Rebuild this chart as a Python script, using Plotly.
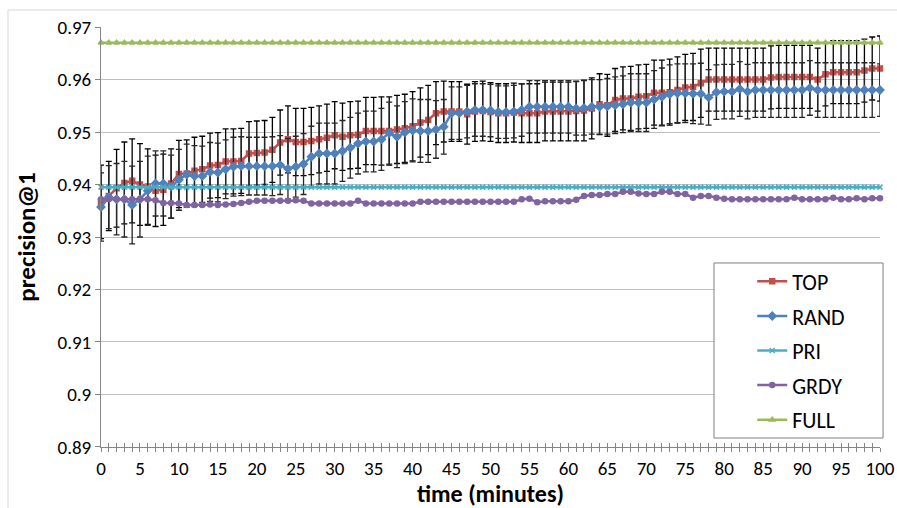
import plotly.graph_objects as go

minutes = list(range(0, 101))

TOP = [0.9367, 0.9378, 0.9393, 0.9403, 0.9407, 0.9400, 0.9396, 0.9388, 0.9390, 0.9402,
       0.9420, 0.9421, 0.9426, 0.9429, 0.9436, 0.9437, 0.9444, 0.9444, 0.9445, 0.9459,
       0.9460, 0.9461, 0.9466, 0.9480, 0.9486, 0.9481, 0.9481, 0.9483, 0.9486, 0.9489,
       0.9494, 0.9491, 0.9494, 0.9495, 0.9502, 0.9502, 0.9502, 0.9502, 0.9505, 0.9507,
       0.9511, 0.9518, 0.9523, 0.9536, 0.9539, 0.9539, 0.9539, 0.9534, 0.9539, 0.9540,
       0.9538, 0.9536, 0.9536, 0.9537, 0.9536, 0.9536, 0.9536, 0.9539, 0.9539, 0.9539,
       0.9539, 0.9540, 0.9541, 0.9545, 0.9553, 0.9551, 0.9561, 0.9564, 0.9564, 0.9567,
       0.9568, 0.9575, 0.9575, 0.9576, 0.9580, 0.9585, 0.9586, 0.9593, 0.9600, 0.9600,
       0.9600, 0.9600, 0.9600, 0.9600, 0.9600, 0.9600, 0.9604, 0.9605, 0.9605, 0.9605,
       0.9605, 0.9605, 0.9600, 0.9610, 0.9614, 0.9614, 0.9614, 0.9614, 0.9617, 0.9621,
       0.9621]

RAND = [0.9357, 0.9376, 0.9372, 0.9372, 0.9361, 0.9372, 0.9388, 0.9402, 0.9402, 0.9396,
        0.9409, 0.9419, 0.9416, 0.9416, 0.9424, 0.9423, 0.9429, 0.9434, 0.9435, 0.9435,
        0.9435, 0.9435, 0.9435, 0.9437, 0.9430, 0.9434, 0.9439, 0.9453, 0.9459, 0.9459,
        0.9459, 0.9464, 0.9470, 0.9478, 0.9482, 0.9482, 0.9486, 0.9498, 0.9491, 0.9499,
        0.9503, 0.9502, 0.9502, 0.9505, 0.9510, 0.9536, 0.9536, 0.9539, 0.9542, 0.9542,
        0.9541, 0.9538, 0.9538, 0.9539, 0.9542, 0.9548, 0.9548, 0.9548, 0.9548, 0.9548,
        0.9548, 0.9545, 0.9546, 0.9548, 0.9548, 0.9549, 0.9551, 0.9553, 0.9556, 0.9556,
        0.9556, 0.9562, 0.9567, 0.9572, 0.9574, 0.9574, 0.9573, 0.9573, 0.9566, 0.9576,
        0.9577, 0.9577, 0.9582, 0.9577, 0.9580, 0.9580, 0.9580, 0.9580, 0.9580, 0.9580,
        0.9580, 0.9584, 0.9580, 0.9580, 0.9580, 0.9580, 0.9580, 0.9580, 0.9580, 0.9580,
        0.9580]

PRI = [0.9395, 0.9395, 0.9395, 0.9395, 0.9395, 0.9395, 0.9395, 0.9395, 0.9395, 0.9395,
       0.9395, 0.9395, 0.9395, 0.9395, 0.9395, 0.9395, 0.9395, 0.9395, 0.9395, 0.9395,
       0.9395, 0.9395, 0.9395, 0.9395, 0.9395, 0.9395, 0.9395, 0.9395, 0.9395, 0.9395,
       0.9395, 0.9395, 0.9395, 0.9395, 0.9395, 0.9395, 0.9395, 0.9395, 0.9395, 0.9395,
       0.9395, 0.9395, 0.9395, 0.9395, 0.9395, 0.9395, 0.9395, 0.9395, 0.9395, 0.9395,
       0.9395, 0.9395, 0.9395, 0.9395, 0.9395, 0.9395, 0.9395, 0.9395, 0.9395, 0.9395,
       0.9395, 0.9395, 0.9395, 0.9395, 0.9395, 0.9395, 0.9395, 0.9395, 0.9395, 0.9395,
       0.9395, 0.9395, 0.9395, 0.9395, 0.9395, 0.9395, 0.9395, 0.9395, 0.9395, 0.9395,
       0.9395, 0.9395, 0.9395, 0.9395, 0.9395, 0.9395, 0.9395, 0.9395, 0.9395, 0.9395,
       0.9395, 0.9395, 0.9395, 0.9395, 0.9395, 0.9395, 0.9395, 0.9395, 0.9395, 0.9395,
       0.9395]

GRDY = [0.9372, 0.9372, 0.9372, 0.9372, 0.9372, 0.9372, 0.9372, 0.9370, 0.9365, 0.9365,
        0.9364, 0.9361, 0.9361, 0.9361, 0.9362, 0.9361, 0.9362, 0.9363, 0.9365, 0.9367,
        0.9369, 0.9369, 0.9369, 0.9369, 0.9369, 0.9370, 0.9369, 0.9364, 0.9364, 0.9364,
        0.9364, 0.9364, 0.9364, 0.9369, 0.9364, 0.9364, 0.9364, 0.9364, 0.9364, 0.9364,
        0.9364, 0.9367, 0.9367, 0.9367, 0.9367, 0.9367, 0.9367, 0.9367, 0.9367, 0.9367,
        0.9367, 0.9367, 0.9367, 0.9367, 0.9372, 0.9373, 0.9366, 0.9368, 0.9368, 0.9368,
        0.9368, 0.9371, 0.9378, 0.9380, 0.9380, 0.9382, 0.9382, 0.9386, 0.9386, 0.9383,
        0.9382, 0.9382, 0.9386, 0.9386, 0.9382, 0.9382, 0.9375, 0.9378, 0.9378, 0.9375,
        0.9373, 0.9372, 0.9372, 0.9372, 0.9372, 0.9372, 0.9372, 0.9372, 0.9372, 0.9375,
        0.9372, 0.9372, 0.9372, 0.9372, 0.9375, 0.9372, 0.9372, 0.9374, 0.9372, 0.9374,
        0.9374]

FULL = [0.9670, 0.9670, 0.9670, 0.9670, 0.9670, 0.9670, 0.9670, 0.9670, 0.9670, 0.9670,
        0.9670, 0.9670, 0.9670, 0.9670, 0.9670, 0.9670, 0.9670, 0.9670, 0.9670, 0.9670,
        0.9670, 0.9670, 0.9670, 0.9670, 0.9670, 0.9670, 0.9670, 0.9670, 0.9670, 0.9670,
        0.9670, 0.9670, 0.9670, 0.9670, 0.9670, 0.9670, 0.9670, 0.9670, 0.9670, 0.9670,
        0.9670, 0.9670, 0.9670, 0.9670, 0.9670, 0.9670, 0.9670, 0.9670, 0.9670, 0.9670,
        0.9670, 0.9670, 0.9670, 0.9670, 0.9670, 0.9670, 0.9670, 0.9670, 0.9670, 0.9670,
        0.9670, 0.9670, 0.9670, 0.9670, 0.9670, 0.9670, 0.9670, 0.9670, 0.9670, 0.9670,
        0.9670, 0.9670, 0.9670, 0.9670, 0.9670, 0.9670, 0.9670, 0.9670, 0.9670, 0.9670,
        0.9670, 0.9670, 0.9670, 0.9670, 0.9670, 0.9670, 0.9670, 0.9670, 0.9670, 0.9670,
        0.9670, 0.9670, 0.9670, 0.9670, 0.9670, 0.9670, 0.9670, 0.9670, 0.9670, 0.9670,
        0.9670]

TOP_ERR = [0.0070, 0.0066, 0.0074, 0.0078, 0.0080, 0.0078, 0.0072, 0.0068, 0.0068, 0.0066,
           0.0064, 0.0064, 0.0064, 0.0063, 0.0062, 0.0062, 0.0062, 0.0062, 0.0062, 0.0061,
           0.0061, 0.0061, 0.0062, 0.0062, 0.0064, 0.0064, 0.0064, 0.0064, 0.0064, 0.0064,
           0.0064, 0.0064, 0.0064, 0.0064, 0.0064, 0.0064, 0.0065, 0.0065, 0.0065, 0.0065,
           0.0066, 0.0066, 0.0066, 0.0060, 0.0058, 0.0057, 0.0057, 0.0057, 0.0057, 0.0057,
           0.0056, 0.0056, 0.0056, 0.0056, 0.0056, 0.0056, 0.0056, 0.0056, 0.0056, 0.0056,
           0.0056, 0.0057, 0.0058, 0.0058, 0.0058, 0.0059, 0.0060, 0.0060, 0.0061, 0.0061,
           0.0061, 0.0062, 0.0062, 0.0063, 0.0063, 0.0063, 0.0064, 0.0065, 0.0060, 0.0060,
           0.0060, 0.0060, 0.0060, 0.0060, 0.0060, 0.0060, 0.0060, 0.0060, 0.0060, 0.0060,
           0.0060, 0.0060, 0.0060, 0.0060, 0.0060, 0.0060, 0.0060, 0.0060, 0.0060, 0.0060,
           0.0062]

RAND_ERR = [0.0065, 0.0060, 0.0068, 0.0072, 0.0074, 0.0072, 0.0066, 0.0062, 0.0062, 0.0060,
            0.0058, 0.0058, 0.0058, 0.0057, 0.0056, 0.0056, 0.0056, 0.0056, 0.0056, 0.0055,
            0.0055, 0.0055, 0.0056, 0.0056, 0.0058, 0.0058, 0.0058, 0.0058, 0.0058, 0.0058,
            0.0058, 0.0058, 0.0058, 0.0058, 0.0058, 0.0058, 0.0059, 0.0059, 0.0059, 0.0059,
            0.0060, 0.0060, 0.0060, 0.0055, 0.0052, 0.0050, 0.0050, 0.0050, 0.0050, 0.0050,
            0.0050, 0.0050, 0.0050, 0.0050, 0.0050, 0.0050, 0.0050, 0.0050, 0.0050, 0.0050,
            0.0050, 0.0051, 0.0052, 0.0052, 0.0052, 0.0053, 0.0054, 0.0054, 0.0055, 0.0055,
            0.0055, 0.0055, 0.0055, 0.0056, 0.0056, 0.0056, 0.0057, 0.0058, 0.0053, 0.0052,
            0.0052, 0.0052, 0.0052, 0.0052, 0.0052, 0.0052, 0.0052, 0.0052, 0.0052, 0.0052,
            0.0052, 0.0052, 0.0052, 0.0052, 0.0052, 0.0052, 0.0052, 0.0052, 0.0052, 0.0052,
            0.0050]

X_TICKS = [0, 5, 10, 15, 20, 25, 30, 35, 40, 45, 50, 55, 60, 65, 70, 75, 80, 85, 90, 95, 100]
Y_TICKS = [0.89, 0.90, 0.91, 0.92, 0.93, 0.94, 0.95, 0.96, 0.97]
Y_TICK_TEXT = ["0.89", "0.9", "0.91", "0.92", "0.93", "0.94", "0.95", "0.96", "0.97"]

FONT = "Calibri, Carlito, Lato, sans-serif"
AXIS_GRAY = "#868686"

series = [
    ("TOP", TOP, "#C0504D", "square", 5, TOP_ERR, "#000000"),
    ("RAND", RAND, "#4F81BD", "diamond", 6, RAND_ERR, "#262626"),
    ("PRI", PRI, "#4BACC6", "x-thin-open", 5, None, None),
    ("GRDY", GRDY, "#8064A2", "circle", 5, None, None),
    ("FULL", FULL, "#9BBB59", "triangle-up", 5, None, None),
]

fig = go.Figure()
for name, vals, color, sym, msize, err, ecol in series:
    kw = {}
    if err is not None:
        kw["error_y"] = dict(type="data", array=err, visible=True, color=ecol,
                             thickness=1.3, width=3)
    fig.add_trace(go.Scatter(
        x=minutes, y=vals, name=name, mode="lines+markers",
        line=dict(color=color, width=2.5),
        marker=dict(symbol=sym, size=msize, color=color,
                    line=dict(color=color, width=1.5)),
        legendgroup=name, cliponaxis=False, **kw))

# invisible helper trace so the second (tick-only) x axis is drawn
fig.add_trace(go.Scatter(x=[minutes[0]], y=[None], xaxis="x2", yaxis="y",
                         showlegend=False, hoverinfo="skip", mode="lines"))

fig.update_layout(
    width=897, height=508,
    margin=dict(l=101, r=17, t=27, b=61, autoexpand=False),
    paper_bgcolor="white", plot_bgcolor="white",
    font=dict(family=FONT, size=19, color="#000000"),
    showlegend=True,
    legend=dict(x=0.836, y=0.444, xanchor="left", yanchor="top",
                bgcolor="rgba(0,0,0,0)", borderwidth=0,
                font=dict(family=FONT, size=22, color="#000000"),
                tracegroupgap=3, itemwidth=30),
    xaxis=dict(range=[0, 100], tickmode="array", tickvals=X_TICKS,
               ticks="outside", ticklen=4, tickcolor=AXIS_GRAY, tickwidth=1,
               minor=dict(dtick=1, tick0=0, ticks="outside", ticklen=4,
                          tickcolor=AXIS_GRAY, tickwidth=1, showgrid=False),
               showline=True, linecolor=AXIS_GRAY, linewidth=1,
               showgrid=False, zeroline=False,
               tickfont=dict(family=FONT, size=19),
               title=dict(text="<b>time (minutes)</b>", standoff=4,
                          font=dict(family=FONT, size=24))),
    xaxis2=dict(range=[0, 100], overlaying="x", anchor="y", side="bottom",
                dtick=1, tick0=0, ticks="inside", ticklen=4, tickcolor=AXIS_GRAY,
                tickwidth=1, showticklabels=False, showline=False,
                showgrid=False, zeroline=False),
    yaxis=dict(range=[0.88999, 0.97001], tickmode="array", tickvals=Y_TICKS,
               ticktext=Y_TICK_TEXT,
               ticks="outside", ticklen=5, tickcolor=AXIS_GRAY,
               showline=True, linecolor=AXIS_GRAY, linewidth=1,
               showgrid=True, gridcolor="#BFBFBF", gridwidth=1, zeroline=False,
               tickfont=dict(family=FONT, size=19),
               title=dict(text="<b>precision@1</b>", standoff=14,
                          font=dict(family=FONT, size=25))),
    shapes=[
        dict(type="rect", xref="paper", yref="paper",
             x0=0.7869, x1=1.0039, y0=0.0214, y1=0.4381,
             line=dict(color="#7F7F7F", width=1), fillcolor="white", layer="above"),
        dict(type="rect", xref="paper", yref="paper",
             x0=-0.1194, x1=1.06, y0=-0.25, y1=1.0405,
             line=dict(color="#D9D9D9", width=1), fillcolor="rgba(0,0,0,0)", layer="below"),
    ],
)

fig.write_html("out.html")
